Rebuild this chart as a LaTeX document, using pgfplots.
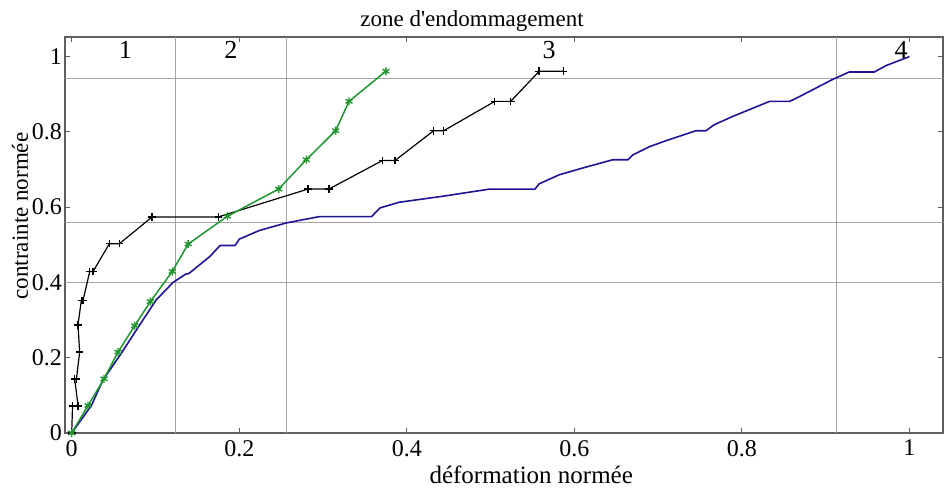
\documentclass[border=0pt]{standalone}
\usepackage{fontspec}
\setmainfont{Liberation Serif}
\usepackage{pgfplots}
\pgfplotsset{compat=1.18}
\definecolor{cblue}{RGB}{30,20,150}
\definecolor{cgreen}{RGB}{30,150,45}
\definecolor{caxis}{RGB}{95,95,95}
\definecolor{cgrid}{RGB}{165,165,165}
\begin{document}
\begin{tikzpicture}
\begin{axis}[
  scale only axis,
  width=439pt, height=198pt,
  xmin=-0.008, xmax=1.04, ymin=0, ymax=1.052,
  xtick={0,0.2,0.4,0.6,0.8,1},
  ytick={0,0.2,0.4,0.6,0.8,1},
  /pgf/number format/assume math mode=true,
  tick align=inside,
  xtick pos=both, ytick pos=both,
  major tick length=2.5pt,
  axis line style={caxis, line width=0.6pt},
  tick style={caxis, line width=0.5pt},
  ticklabel style={font=\fontsize{12}{14}\selectfont},
  yticklabel style={xshift=2pt},
  extra x ticks={0.124,0.256,0.913},
  extra x tick labels={},
  extra y ticks={0.399,0.559,0.941},
  extra y tick labels={},
  extra tick style={grid=major, major tick length=0pt, major grid style={cgrid, line width=0.6pt}},
  xlabel={déformation normée},
  ylabel={contrainte normée},
  every axis x label/.style={at={(axis description cs:0.531,0)}, anchor=base, yshift=-25pt, font=\fontsize{12.5}{14}\selectfont},
  every axis y label/.style={at={(axis description cs:-0.0513,0.548)}, anchor=center, rotate=90, font=\fontsize{11.5}{13}\selectfont},
  title={zone d\textquotesingle endommagement},
  every axis title/.style={at={(axis description cs:0.4636,1)}, anchor=base, yshift=5pt, font=\fontsize{11.5}{13}\selectfont},
  clip=false,
]
% blue
\addplot[cblue, line width=0.8pt, mark=none] coordinates {
(0,0) (0.0235,0.073) (0.0374,0.141) (0.0593,0.212) (0.0811,0.287) (0.101,0.354)
(0.121,0.400) (0.136,0.422) (0.140,0.424) (0.145,0.433) (0.165,0.469) (0.177,0.498)
(0.195,0.498) (0.2,0.515) (0.224,0.538) (0.256,0.558) (0.296,0.575) (0.358,0.575)
(0.368,0.598) (0.391,0.613) (0.443,0.629) (0.499,0.648) (0.553,0.648) (0.558,0.662)
(0.582,0.686) (0.610,0.704) (0.646,0.726) (0.664,0.726) (0.670,0.739) (0.690,0.761)
(0.710,0.777) (0.745,0.803) (0.757,0.803) (0.767,0.819) (0.789,0.841) (0.833,0.881)
(0.857,0.881) (0.869,0.894) (0.908,0.939) (0.928,0.959) (0.958,0.959) (0.972,0.976)
(1.0,1.0)
};
% black
\addplot[black, line width=0.6pt, mark=+, mark size=1.9pt, mark options={line width=0.7pt}] coordinates {
(0,0) (0.001,0.072) (0.0076,0.072) (0.0036,0.143) (0.0056,0.143) (0.0095,0.215)
(0.0075,0.287) (0.0115,0.352) (0.0135,0.352) (0.0215,0.429) (0.0255,0.429)
(0.045,0.503) (0.057,0.503) (0.096,0.574) (0.175,0.574) (0.282,0.648) (0.307,0.648)
(0.371,0.724) (0.386,0.724) (0.432,0.803) (0.444,0.803) (0.505,0.881) (0.524,0.881)
(0.558,0.961) (0.587,0.961)
};
% green
\addplot[cgreen, line width=0.75pt, mark=asterisk, mark size=2pt, mark options={line width=0.7pt}] coordinates {
(0,0) (0.0195,0.073) (0.0386,0.144) (0.0553,0.215) (0.0752,0.285) (0.0939,0.349)
(0.120,0.429) (0.139,0.502) (0.186,0.576) (0.247,0.648) (0.280,0.726) (0.315,0.803)
(0.331,0.881) (0.375,0.961)
};
\node[font=\fontsize{13}{15}\selectfont, anchor=center] at (axis cs:0.064,1.018) {1};
\node[font=\fontsize{13}{15}\selectfont, anchor=center] at (axis cs:0.190,1.018) {2};
\node[font=\fontsize{13}{15}\selectfont, anchor=center] at (axis cs:0.570,1.018) {3};
\node[font=\fontsize{13}{15}\selectfont, anchor=center] at (axis cs:0.990,1.018) {4};
\end{axis}
\pgfresetboundingbox
\path ([shift={(-32.5pt,-27.5pt)}]current axis.south west) rectangle ([shift={(0.5pt,18.5pt)}]current axis.north east);
\end{tikzpicture}
\end{document}
